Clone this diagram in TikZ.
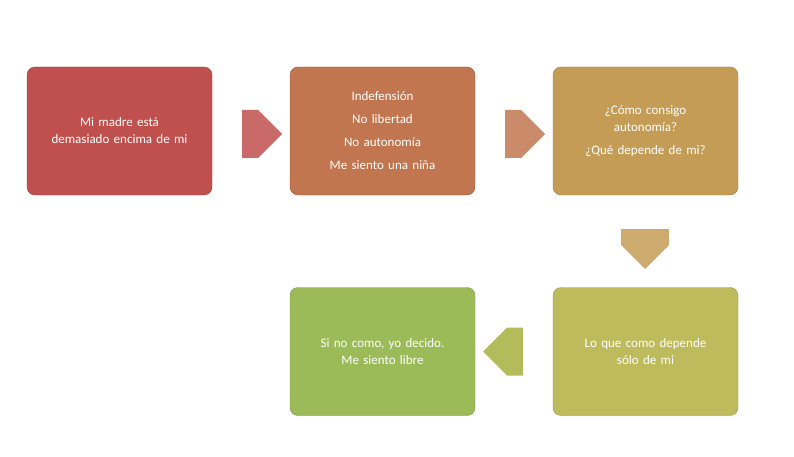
\documentclass[tikz,border=0pt]{standalone}
\usepackage{fontspec}
\setmainfont{Carlito}
\usetikzlibrary{shapes.arrows,positioning}
\definecolor{cred}{RGB}{192,80,77}
\definecolor{corange}{RGB}{193,118,80}
\definecolor{cochre}{RGB}{196,156,86}
\definecolor{colive}{RGB}{189,187,92}
\definecolor{cgreen}{RGB}{155,187,89}
\begin{document}
\begin{tikzpicture}[x=1pt, y=-1pt,
    box/.style={rectangle, rounded corners=8pt, draw=#1!80!black, fill=#1, text=white,
      minimum width=185pt, minimum height=128pt, text width=170pt, align=center,
      font=\fontsize{13}{23}\selectfont},
    blockarrow/.style={single arrow, fill=#1, draw=none, minimum width=48pt,
      single arrow head extend=0pt, single arrow tip angle=90, minimum height=40pt, inner sep=0pt}]
    \useasboundingbox (0,0) rectangle (794,457);
    \node[box=cred] (madre) at (119.5,131) {Mi madre está\\[-6pt]demasiado encima de mi};
    \node[box=corange] (indef) at (382.5,131) {Indefensión\\No libertad\\No autonomía\\Me siento una niña};
    \node[box=cochre] (como) at (645.5,131) {¿Cómo consigo\\[-6pt]autonomía?\\¿Qué depende de mi?};
    \node[box=colive] (depende) at (645.5,351.5) {Lo que como depende\\[-6pt]sólo de mi};
    \node[box=cgreen] (libre) at (382.5,351.5) {Si no como, yo decido.\\[-6pt]Me siento libre};

    \node[blockarrow=cred!85!white] (a1) at (250,134) {};
    \node[blockarrow=corange!85!white] (a2) at (513,134) {};
    \node[blockarrow=cochre!85!white, rotate=-90] (a3) at (645,237) {};
    \node[blockarrow=colive!70!cgreen, rotate=180] (a4) at (515,351.5) {};
\end{tikzpicture}
\end{document}
